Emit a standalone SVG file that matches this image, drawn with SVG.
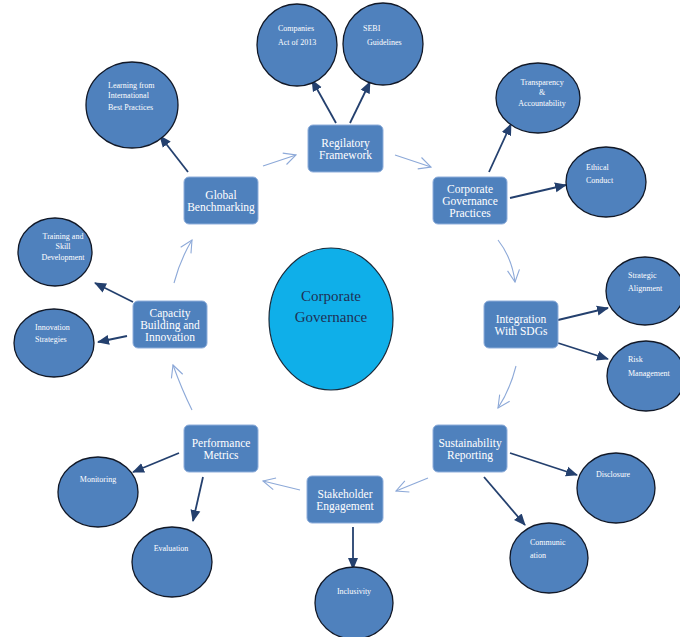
<svg xmlns="http://www.w3.org/2000/svg" width="680" height="637" viewBox="0 0 680 637">
<style>
.box{fill:#4F81BD;stroke:#8FAEDB;stroke-width:1}
.ell{fill:#4F81BD;stroke:#111827;stroke-width:1.3}
.bt{font-family:"Liberation Serif",serif;font-size:11.5px;fill:#ffffff;text-anchor:middle}
.et{font-family:"Liberation Serif",serif;font-size:8px;fill:#ffffff}
.mid{text-anchor:middle}
.dark{stroke:#24406E;stroke-width:1.8;fill:none}
.thin{stroke:#8DA9D8;stroke-width:1.1;fill:none}
</style>
<defs>
<marker id="dh" markerUnits="userSpaceOnUse" markerWidth="12" markerHeight="12" viewBox="0 0 12 12" refX="11" refY="6" orient="auto">
<path d="M0,1 L12,6 L0,11 Z" fill="#24406E"/>
</marker>
<marker id="th" markerUnits="userSpaceOnUse" markerWidth="14" markerHeight="14" viewBox="0 0 14 14" refX="13" refY="7" orient="auto">
<path d="M1,1 L13,7 L1,13" fill="none" stroke="#8DA9D8" stroke-width="1.1"/>
</marker>
</defs>
<rect width="680" height="637" fill="#ffffff"/>

<g id="connectors">
<line class="dark" x1="336" y1="123" x2="312" y2="80" marker-end="url(#dh)"/>
<line class="dark" x1="350" y1="123" x2="370" y2="82" marker-end="url(#dh)"/>
<line class="dark" x1="489" y1="172" x2="511" y2="124" marker-end="url(#dh)"/>
<line class="dark" x1="510" y1="198" x2="566" y2="185" marker-end="url(#dh)"/>
<line class="dark" x1="558" y1="320" x2="608" y2="308" marker-end="url(#dh)"/>
<line class="dark" x1="558" y1="343" x2="608" y2="359" marker-end="url(#dh)"/>
<line class="dark" x1="510" y1="453" x2="577" y2="475" marker-end="url(#dh)"/>
<line class="dark" x1="484" y1="477" x2="525" y2="525" marker-end="url(#dh)"/>
<line class="dark" x1="353" y1="527" x2="353" y2="569" marker-end="url(#dh)"/>
<line class="dark" x1="179" y1="453" x2="133" y2="472" marker-end="url(#dh)"/>
<line class="dark" x1="203" y1="477" x2="193" y2="521" marker-end="url(#dh)"/>
<line class="dark" x1="133" y1="302" x2="95" y2="283" marker-end="url(#dh)"/>
<line class="dark" x1="127" y1="336" x2="98" y2="342" marker-end="url(#dh)"/>
<line class="dark" x1="188" y1="172" x2="160" y2="136" marker-end="url(#dh)"/>

<line class="thin" x1="263" y1="166" x2="296" y2="155" marker-end="url(#th)"/>
<line class="thin" x1="395" y1="155" x2="431" y2="167" marker-end="url(#th)"/>
<path class="thin" d="M498,240 Q512,258 515,282" marker-end="url(#th)"/>
<path class="thin" d="M516,366 Q510,390 498,408" marker-end="url(#th)"/>
<line class="thin" x1="428" y1="478" x2="396" y2="491" marker-end="url(#th)"/>
<line class="thin" x1="300" y1="490" x2="263" y2="481" marker-end="url(#th)"/>
<path class="thin" d="M192,410 Q182,390 173,365" marker-end="url(#th)"/>
<path class="thin" d="M174,283 Q180,260 192,240" marker-end="url(#th)"/>
</g>

<g id="center">
<ellipse cx="331" cy="319" rx="62" ry="71" fill="#0FAFE9" stroke="#1A2A3A" stroke-width="1.2"/>
<text x="331" y="301" font-family="Liberation Serif,serif" font-size="15" fill="#1F2F55" text-anchor="middle">Corporate</text>
<text x="331" y="322" font-family="Liberation Serif,serif" font-size="15" fill="#1F2F55" text-anchor="middle">Governance</text>
</g>

<g id="regilatory">
<rect class="box" x="308" y="125" width="75" height="47" rx="5"/>
<text class="bt" x="345.5" y="147">Regilatory</text>
<text class="bt" x="345.5" y="159">Framework</text>
</g>
<g id="cgp">
<rect class="box" x="433" y="177" width="74" height="47" rx="5"/>
<text class="bt" x="470" y="193">Corporate</text>
<text class="bt" x="470" y="205">Governance</text>
<text class="bt" x="470" y="217">Practices</text>
</g>
<g id="sdg">
<rect class="box" x="484" y="301" width="74" height="47" rx="5"/>
<text class="bt" x="521" y="323">Integration</text>
<text class="bt" x="521" y="335">With SDGs</text>
</g>
<g id="sustain">
<rect class="box" x="433" y="425" width="74" height="47" rx="5"/>
<text class="bt" x="470" y="447">Sustainability</text>
<text class="bt" x="470" y="459">Reporting</text>
</g>
<g id="stakeholder">
<rect class="box" x="307" y="476" width="76" height="47" rx="5"/>
<text class="bt" x="345" y="498">Stakeholder</text>
<text class="bt" x="345" y="510">Engagement</text>
</g>
<g id="performance">
<rect class="box" x="184" y="425" width="74" height="47" rx="5"/>
<text class="bt" x="221" y="447">Performance</text>
<text class="bt" x="221" y="459">Metrics</text>
</g>
<g id="capacity">
<rect class="box" x="133" y="301" width="74" height="47" rx="5"/>
<text class="bt" x="170" y="317">Capacity</text>
<text class="bt" x="170" y="329">Building and</text>
<text class="bt" x="170" y="341">Innovation</text>
</g>
<g id="global">
<rect class="box" x="184" y="177" width="74" height="47" rx="5"/>
<text class="bt" x="221" y="199">Global</text>
<text class="bt" x="221" y="211">Benchmarking</text>
</g>

<g id="companies">
<ellipse class="ell" cx="297" cy="45" rx="40" ry="41"/>
<text class="et" x="278" y="31">Companies</text>
<text class="et" x="278" y="45">Act of 2013</text>
</g>
<g id="sebi">
<ellipse class="ell" cx="383" cy="44" rx="40" ry="41"/>
<text class="et" x="363" y="31">SEBI</text>
<text class="et" x="367" y="45">Guidelines</text>
</g>
<g id="transparency">
<ellipse class="ell" cx="538" cy="98" rx="42" ry="35"/>
<text class="et mid" x="542" y="85">Transparency</text>
<text class="et mid" x="542" y="95">&amp;</text>
<text class="et mid" x="542" y="106">Accountability</text>
</g>
<g id="ethical">
<ellipse class="ell" cx="606" cy="182" rx="40" ry="35"/>
<text class="et" x="586" y="170">Ethical</text>
<text class="et" x="586" y="183">Conduct</text>
</g>
<g id="strategic">
<ellipse class="ell" cx="645" cy="291" rx="39" ry="34"/>
<text class="et" x="628" y="278">Strategic</text>
<text class="et" x="628" y="291">Alignment</text>
</g>
<g id="risk">
<ellipse class="ell" cx="646" cy="376" rx="39" ry="35"/>
<text class="et" x="628" y="362">Risk</text>
<text class="et" x="628" y="376">Management</text>
</g>
<g id="disclosure">
<ellipse class="ell" cx="616" cy="488" rx="39" ry="35"/>
<text class="et mid" x="613" y="477">Disclosure</text>
</g>
<g id="communication">
<ellipse class="ell" cx="549" cy="558" rx="39" ry="35"/>
<text class="et" x="530" y="545">Communic</text>
<text class="et" x="530" y="558">ation</text>
</g>
<g id="inclusivity">
<ellipse class="ell" cx="354" cy="603" rx="39" ry="36"/>
<text class="et mid" x="354" y="594">Inclusivity</text>
</g>
<g id="evaluation">
<ellipse class="ell" cx="172" cy="562" rx="40" ry="35"/>
<text class="et mid" x="171" y="551">Evaluation</text>
</g>
<g id="monitoring">
<ellipse class="ell" cx="98" cy="492" rx="40" ry="35"/>
<text class="et mid" x="98" y="482">Monitoring</text>
</g>
<g id="innovation">
<ellipse class="ell" cx="54" cy="343" rx="40" ry="34"/>
<text class="et" x="35" y="330">Innovation</text>
<text class="et" x="35" y="342">Strategies</text>
</g>
<g id="training">
<ellipse class="ell" cx="55" cy="252" rx="37" ry="34"/>
<text class="et mid" x="63" y="239">Training and</text>
<text class="et mid" x="63" y="249">Skill</text>
<text class="et mid" x="63" y="260">Development</text>
</g>
<g id="learning">
<ellipse class="ell" cx="132" cy="105" rx="46" ry="43"/>
<text class="et" x="108" y="88">Learning from</text>
<text class="et" x="108" y="98">International</text>
<text class="et" x="108" y="110">Best Practices</text>
</g>
</svg>
